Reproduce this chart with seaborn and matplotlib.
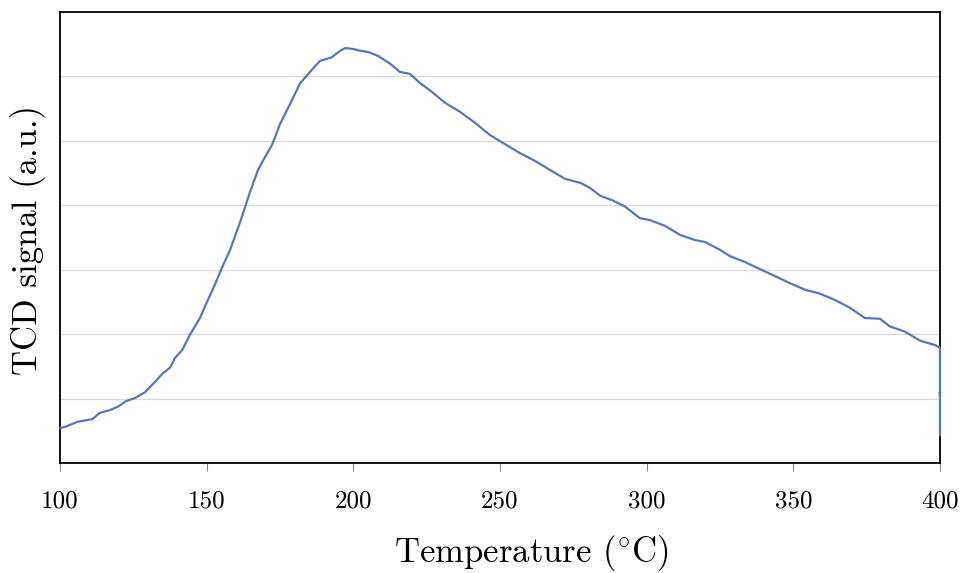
import matplotlib
matplotlib.use("Agg")
import matplotlib.pyplot as plt
import numpy as np
import pandas as pd
import seaborn as sns

# TCD signal profile versus temperature
temperature = [100, 101.7, 106, 111, 113.6, 117, 120, 122.5, 125.6, 129, 132.4, 134.8,
               137.5, 139.2, 141.6, 144.3, 147.7, 150.1, 152.8, 155.2, 158, 161.4, 164.8,
               167.5, 169.9, 172.3, 175, 178.4, 181.8, 185.2, 188.6, 192.7, 195.5, 197.2,
               199.5, 202.3, 205, 208.4, 212.5, 215.9, 219.3, 222.7, 226.8, 231.3, 236.4,
               241.5, 246.6, 251.7, 256.8, 261.9, 267, 272.2, 277.3, 280.7, 284.1, 288.2,
               292.6, 297.7, 301.1, 306.3, 311.4, 316.5, 319.9, 325, 328.4, 333.5, 338.6,
               343.8, 348.9, 354, 359, 364.2, 369.3, 374.4, 379.5, 382.9, 388, 393.2, 398.3,
               400, 400, 400, 400, 400, 400]
signal = [0.54, 0.56, 0.64, 0.68, 0.78, 0.82, 0.88, 0.96, 1.01, 1.10, 1.26, 1.38,
          1.48, 1.63, 1.75, 1.99, 2.25, 2.50, 2.77, 3.03, 3.31, 3.74, 4.21,
          4.55, 4.75, 4.94, 5.26, 5.57, 5.89, 6.07, 6.24, 6.30, 6.40, 6.44,
          6.43, 6.40, 6.38, 6.32, 6.20, 6.07, 6.04, 5.90, 5.76, 5.59, 5.45,
          5.28, 5.09, 4.95, 4.81, 4.69, 4.55, 4.41, 4.35, 4.27, 4.15, 4.08,
          3.98, 3.80, 3.77, 3.68, 3.54, 3.46, 3.43, 3.31, 3.21, 3.12, 3.01,
          2.90, 2.79, 2.69, 2.63, 2.53, 2.41, 2.25, 2.24, 2.12, 2.04, 1.90, 1.83,
          1.79, 1.40, 1.05, 1.10, 0.80, 0.43]

x_ticks = [100, 150, 200, 250, 300, 350, 400]

df = pd.DataFrame({"Temperature": temperature, "Signal": signal})

sns.set_theme(style="white")
plt.rcParams["font.family"] = ["cmr10", "DejaVu Serif"]
plt.rcParams["mathtext.fontset"] = "cm"
plt.rcParams["axes.formatter.use_mathtext"] = True
plt.rcParams["text.color"] = "black"
plt.rcParams["axes.labelcolor"] = "black"
plt.rcParams["xtick.labelcolor"] = "black"

fig = plt.figure(figsize=(9.62, 5.73), dpi=100)
ax = fig.add_axes([0.0624, 0.192, 0.9147, 0.787])

sns.lineplot(data=df, x="Temperature", y="Signal", ax=ax, estimator=None, sort=False,
             color="#5677b8", linewidth=1.6, clip_on=False, zorder=3)

ax.set_xlim(100, 400)
ax.set_ylim(0, 7)
ax.set_xticks(x_ticks)
ax.set_xticklabels([str(t) for t in x_ticks])
ax.set_yticks(range(0, 8))
ax.set_yticklabels([])
ax.tick_params(axis="y", length=0)
ax.tick_params(axis="x", direction="out", length=6, width=0.8, color="#888888",
               pad=14, labelsize=18, labelcolor="black", bottom=True)
ax.grid(axis="y", color="#d9d9d9", linewidth=0.9)
ax.grid(axis="x", visible=False)
for s in ax.spines.values():
    s.set_color("black")
    s.set_linewidth(1.3)
    s.set_visible(True)

ax.set_xlabel(r"Temperature ($^{\circ}$C)", fontsize=25, color="black", va="center")
ax.set_ylabel("TCD signal (a.u.)", fontsize=25, color="black", va="center")
ax.xaxis.set_label_coords(0.536, -0.199)
ax.yaxis.set_label_coords(-0.036, 0.494)

fig.savefig("out.png", dpi=100)
